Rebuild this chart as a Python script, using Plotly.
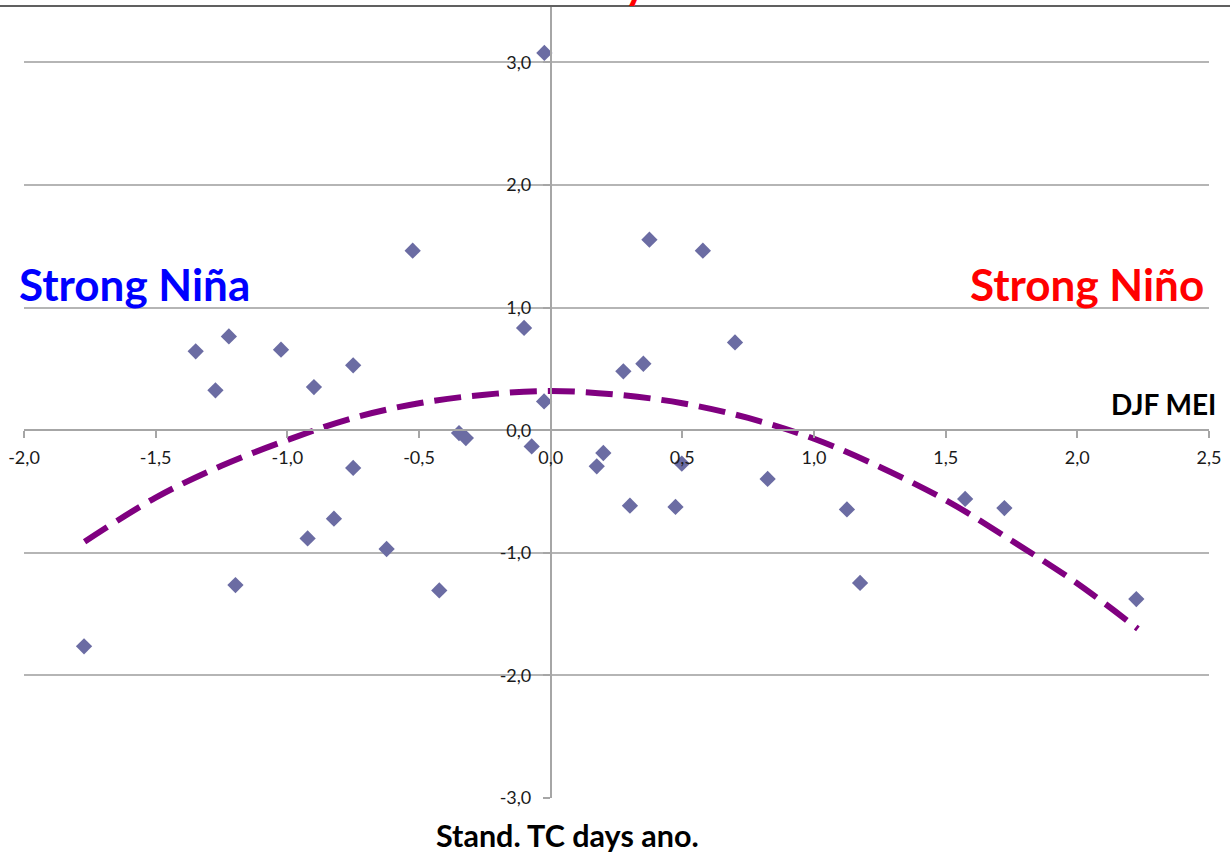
import plotly.graph_objects as go

# Scatter data: DJF MEI (x) vs standardized TC days anomaly (y)
mei = [-0.024, -0.524, 0.375, 0.578, -1.348, -1.222, -1.273, -1.024, -0.899, -0.750,
       -0.101, -0.025, 0.276, 0.352, 0.700, -0.348, -0.322, -0.072, -0.750, 0.175,
       0.200, 0.498, 0.301, 0.474, 0.824, -0.923, -0.823, -0.623, -1.197, -0.423,
       -1.772, 1.125, 1.175, 1.574, 1.723, 2.224]
tc_days = [3.077, 1.464, 1.554, 1.464, 0.643, 0.765, 0.325, 0.657, 0.352, 0.529,
           0.834, 0.235, 0.480, 0.542, 0.716, -0.023, -0.064, -0.132, -0.308, -0.295,
           -0.186, -0.273, -0.616, -0.626, -0.398, -0.883, -0.722, -0.969, -1.263, -1.307,
           -1.763, -0.646, -1.246, -0.561, -0.635, -1.377]

# Trend curve
trend_x = [-1.77, -1.5, -1.25, -1.0, -0.75, -0.5, -0.25, 0.0, 0.25, 0.5,
           0.75, 1.0, 1.25, 1.5, 1.75, 2.0, 2.23]
trend_y = [-0.91, -0.55, -0.29, -0.08, 0.10, 0.22, 0.29, 0.32, 0.29, 0.22,
           0.10, -0.07, -0.30, -0.57, -0.90, -1.25, -1.62]

x_tick_vals = [-2.0, -1.5, -1.0, -0.5, 0.0, 0.5, 1.0, 1.5, 2.0, 2.5]
x_tick_text = ["-2,0", "-1,5", "-1,0", "-0,5", "0,0", "0,5", "1,0", "1,5", "2,0", "2,5"]
y_tick_vals = [-3, -2, -1, 0, 1, 2, 3]
y_tick_text = ["-3,0", "-2,0", "-1,0", "0,0", "1,0", "2,0", "3,0"]

X_RANGE = [-2.0, 2.5]
Y_RANGE = [-3.0, 3.46]

FONT = "Lato, 'Open Sans', sans-serif"

fig = go.Figure()
fig.add_trace(go.Scatter(
    x=mei, y=tc_days, mode="markers",
    marker=dict(symbol="diamond", size=12.5, color="#6b6ca3", line=dict(width=0)),
    showlegend=False, hoverinfo="skip"))
fig.add_trace(go.Scatter(
    x=trend_x, y=trend_y, mode="lines",
    line=dict(color="#800080", width=6, dash="27px,11px", shape="spline"),
    showlegend=False, hoverinfo="skip"))

xpos = (0 - Y_RANGE[0]) / (Y_RANGE[1] - Y_RANGE[0])
ypos = (0 - X_RANGE[0]) / (X_RANGE[1] - X_RANGE[0])

fig.update_layout(
    width=1230, height=858,
    margin=dict(l=24, r=21, t=6, b=60, autoexpand=False),
    paper_bgcolor="white", plot_bgcolor="white",
    font=dict(family=FONT, color="#1a1a1a", size=18),
    xaxis=dict(range=X_RANGE, anchor="free", position=xpos, automargin=False,
               showgrid=False, zeroline=False,
               showline=True, linecolor="#a6a6a6", linewidth=1.5,
               ticks="outside", ticklen=7, tickcolor="#a6a6a6", tickwidth=1.5,
               ticklabelstandoff=4,
               tickvals=x_tick_vals, ticktext=x_tick_text,
               tickfont=dict(size=18, family=FONT, color="#1a1a1a")),
    yaxis=dict(range=Y_RANGE, anchor="free", position=ypos, automargin=False,
               showgrid=True, gridcolor="#b5b5b5", gridwidth=1.5, zeroline=False,
               showline=True, linecolor="#a6a6a6", linewidth=1.5,
               ticks="outside", ticklen=7, tickcolor="#a6a6a6", tickwidth=1.5,
               ticklabelstandoff=8,
               tickvals=y_tick_vals, ticktext=y_tick_text,
               tickfont=dict(size=18, family=FONT, color="#1a1a1a")),
)

# top border line of the slide
fig.add_shape(type="line", xref="paper", yref="paper",
              x0=-24 / 1185, x1=1 + 21 / 1185, y0=1, y1=1,
              line=dict(color="#606060", width=2))

ann = [
    dict(text="<b>Strong Niña</b>", x=-7 / 1185, y=1 - (284 - 6) / 792, xanchor="left", yanchor="middle",
         font=dict(size=44, color="#0000ff", family=FONT)),
    dict(text="<b>Strong Niño</b>", x=1 - 3 / 1185, y=1 - (284 - 6) / 792, xanchor="right", yanchor="middle",
         font=dict(size=44, color="#ff0000", family=FONT)),
    dict(text="<b>DJF MEI</b>", x=1 + 9 / 1185, y=1 - (404 - 6) / 792, xanchor="right", yanchor="middle",
         font=dict(size=28, color="#000000", family=FONT)),
    dict(text="<b>Stand. TC days ano.</b>", x=(567 - 24) / 1185, y=1 - (835 - 6) / 792,
         xanchor="center", yanchor="middle",
         font=dict(size=30.5, color="#000000", family=FONT)),
    dict(text="<b>y</b>", x=(636 - 24) / 1185, y=1 - (-18 - 6) / 792, xanchor="center", yanchor="middle",
         font=dict(size=44, color="#ff0000", family=FONT)),
]
for a in ann:
    fig.add_annotation(xref="paper", yref="paper", showarrow=False, **a)

fig.write_html("out.html",
               config={"displayModeBar": False},
               post_script="document.body.style.margin='0';document.body.style.padding='0';")
